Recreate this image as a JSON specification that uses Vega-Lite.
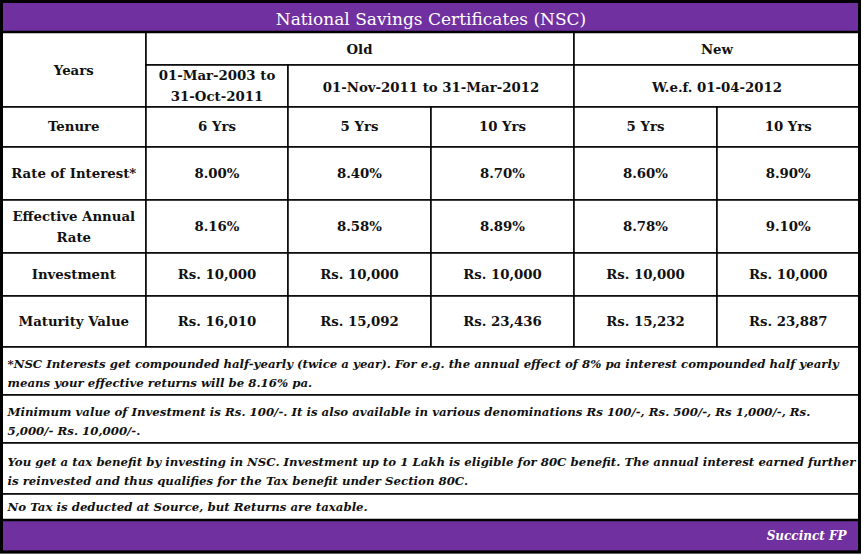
{
  "$schema": "https://vega.github.io/schema/vega-lite/v6.json",
  "width": 863,
  "height": 555,
  "autosize": {"type": "none"},
  "padding": 0,
  "background": "white",
  "config": {"view": {"stroke": null}},
  "datasets": {
    "banners": [
      {"c0": 0, "c1": 6, "r0": 0, "r1": 1},
      {"c0": 0, "c1": 6, "r0": 12, "r1": 13}
    ],
    "grid": [
      {"c0": 0, "c1": 1, "r0": 1, "r1": 3},
      {"c0": 1, "c1": 4, "r0": 1, "r1": 2},
      {"c0": 4, "c1": 6, "r0": 1, "r1": 2},
      {"c0": 1, "c1": 2, "r0": 2, "r1": 3},
      {"c0": 2, "c1": 4, "r0": 2, "r1": 3},
      {"c0": 4, "c1": 6, "r0": 2, "r1": 3},
      {"c0": 0, "c1": 1, "r0": 3, "r1": 4}, {"c0": 1, "c1": 2, "r0": 3, "r1": 4}, {"c0": 2, "c1": 3, "r0": 3, "r1": 4}, {"c0": 3, "c1": 4, "r0": 3, "r1": 4}, {"c0": 4, "c1": 5, "r0": 3, "r1": 4}, {"c0": 5, "c1": 6, "r0": 3, "r1": 4},
      {"c0": 0, "c1": 1, "r0": 4, "r1": 5}, {"c0": 1, "c1": 2, "r0": 4, "r1": 5}, {"c0": 2, "c1": 3, "r0": 4, "r1": 5}, {"c0": 3, "c1": 4, "r0": 4, "r1": 5}, {"c0": 4, "c1": 5, "r0": 4, "r1": 5}, {"c0": 5, "c1": 6, "r0": 4, "r1": 5},
      {"c0": 0, "c1": 1, "r0": 5, "r1": 6}, {"c0": 1, "c1": 2, "r0": 5, "r1": 6}, {"c0": 2, "c1": 3, "r0": 5, "r1": 6}, {"c0": 3, "c1": 4, "r0": 5, "r1": 6}, {"c0": 4, "c1": 5, "r0": 5, "r1": 6}, {"c0": 5, "c1": 6, "r0": 5, "r1": 6},
      {"c0": 0, "c1": 1, "r0": 6, "r1": 7}, {"c0": 1, "c1": 2, "r0": 6, "r1": 7}, {"c0": 2, "c1": 3, "r0": 6, "r1": 7}, {"c0": 3, "c1": 4, "r0": 6, "r1": 7}, {"c0": 4, "c1": 5, "r0": 6, "r1": 7}, {"c0": 5, "c1": 6, "r0": 6, "r1": 7},
      {"c0": 0, "c1": 1, "r0": 7, "r1": 8}, {"c0": 1, "c1": 2, "r0": 7, "r1": 8}, {"c0": 2, "c1": 3, "r0": 7, "r1": 8}, {"c0": 3, "c1": 4, "r0": 7, "r1": 8}, {"c0": 4, "c1": 5, "r0": 7, "r1": 8}, {"c0": 5, "c1": 6, "r0": 7, "r1": 8},
      {"c0": 0, "c1": 6, "r0": 8, "r1": 9},
      {"c0": 0, "c1": 6, "r0": 9, "r1": 10},
      {"c0": 0, "c1": 6, "r0": 10, "r1": 11},
      {"c0": 0, "c1": 6, "r0": 11, "r1": 12}
    ],
    "frame": [
      {"c0": 0, "c1": 6, "r0": 0, "r1": 13}
    ],
    "title": [
      {"col": 3, "row": 0.6, "t": "National Savings Certificates (NSC)"}
    ],
    "body": [
      {"col": 0.5, "row": 2.15, "t": "Years"},
      {"col": 2.5, "row": 1.55, "t": "Old"},
      {"col": 5, "row": 1.55, "t": "New"},
      {"col": 3, "row": 2.55, "t": "01-Nov-2011 to 31-Mar-2012"},
      {"col": 5, "row": 2.55, "t": "W.e.f. 01-04-2012"},
      {"col": 0.5, "row": 3.5, "t": "Tenure"},
      {"col": 1.5, "row": 3.5, "t": "6 Yrs"},
      {"col": 2.5, "row": 3.5, "t": "5 Yrs"},
      {"col": 3.5, "row": 3.5, "t": "10 Yrs"},
      {"col": 4.5, "row": 3.5, "t": "5 Yrs"},
      {"col": 5.5, "row": 3.5, "t": "10 Yrs"},
      {"col": 0.5, "row": 4.5, "t": "Rate of Interest*"},
      {"col": 1.5, "row": 4.5, "t": "8.00%"},
      {"col": 2.5, "row": 4.5, "t": "8.40%"},
      {"col": 3.5, "row": 4.5, "t": "8.70%"},
      {"col": 4.5, "row": 4.5, "t": "8.60%"},
      {"col": 5.5, "row": 4.5, "t": "8.90%"},
      {"col": 1.5, "row": 5.5, "t": "8.16%"},
      {"col": 2.5, "row": 5.5, "t": "8.58%"},
      {"col": 3.5, "row": 5.5, "t": "8.89%"},
      {"col": 4.5, "row": 5.5, "t": "8.78%"},
      {"col": 5.5, "row": 5.5, "t": "9.10%"},
      {"col": 0.5, "row": 6.5, "t": "Investment"},
      {"col": 1.5, "row": 6.5, "t": "Rs. 10,000"},
      {"col": 2.5, "row": 6.5, "t": "Rs. 10,000"},
      {"col": 3.5, "row": 6.5, "t": "Rs. 10,000"},
      {"col": 4.5, "row": 6.5, "t": "Rs. 10,000"},
      {"col": 5.5, "row": 6.5, "t": "Rs. 10,000"},
      {"col": 0.5, "row": 7.5, "t": "Maturity Value"},
      {"col": 1.5, "row": 7.5, "t": "Rs. 16,010"},
      {"col": 2.5, "row": 7.5, "t": "Rs. 15,092"},
      {"col": 3.5, "row": 7.5, "t": "Rs. 23,436"},
      {"col": 4.5, "row": 7.5, "t": "Rs. 15,232"},
      {"col": 5.5, "row": 7.5, "t": "Rs. 23,887"}
    ],
    "body2": [
      {"col": 1.5, "row": 2.5, "t": ["01-Mar-2003 to", "31-Oct-2011"]},
      {"col": 0.5, "row": 5.5, "t": ["Effective Annual", "Rate"]}
    ],
    "notes": [
      {"col": 0, "row": 8.5, "t": ["*NSC Interests get compounded half-yearly (twice a year). For e.g. the annual effect of 8% pa interest compounded half yearly", "means your effective returns will be 8.16% pa."]},
      {"col": 0, "row": 9.5, "t": ["Minimum value of Investment is Rs. 100/-. It is also available in various denominations Rs 100/-, Rs. 500/-, Rs 1,000/-, Rs.", "5,000/- Rs. 10,000/-."]},
      {"col": 0, "row": 10.5, "t": ["You get a tax benefit by investing in NSC. Investment up to 1 Lakh is eligible for 80C benefit. The annual interest earned further", "is reinvested and thus qualifies for the Tax benefit under Section 80C."]}
    ],
    "notes1": [
      {"col": 0, "row": 11.5, "t": "No Tax is deducted at Source, but Returns are taxable."}
    ],
    "footer": [
      {"col": 6, "row": 12.5, "t": "Succinct FP"}
    ]
  },
  "layer": [
    {
      "data": {"name": "grid"},
      "mark": {"type": "rect", "fill": "white", "stroke": "#000000", "strokeWidth": 1.5},
      "encoding": {
        "x": {"field": "c0", "type": "quantitative", "axis": null, "scale": {"type": "linear", "domain": [0, 1, 2, 3, 4, 5, 6], "range": [1.5, 146, 288, 431, 574, 717, 859.5], "nice": false, "zero": false}},
        "x2": {"field": "c1"},
        "y": {"field": "r0", "type": "quantitative", "axis": null, "scale": {"type": "linear", "domain": [0, 1, 2, 3, 4, 5, 6, 7, 8, 9, 10, 11, 12, 13], "range": [1.5, 32, 65, 107, 147, 200, 253, 296, 347, 395, 443, 494, 520, 552], "nice": false, "zero": false}},
        "y2": {"field": "r1"}
      }
    },
    {
      "data": {"name": "banners"},
      "mark": {"type": "rect", "fill": "#7030A0", "stroke": "#000000", "strokeWidth": 2.5},
      "encoding": {
        "x": {"field": "c0", "type": "quantitative", "axis": null},
        "x2": {"field": "c1"},
        "y": {"field": "r0", "type": "quantitative", "axis": null},
        "y2": {"field": "r1"}
      }
    },
    {
      "data": {"name": "frame"},
      "mark": {"type": "rect", "fill": null, "filled": false, "stroke": "#000000", "strokeWidth": 3},
      "encoding": {
        "x": {"field": "c0", "type": "quantitative", "axis": null},
        "x2": {"field": "c1"},
        "y": {"field": "r0", "type": "quantitative", "axis": null},
        "y2": {"field": "r1"}
      }
    },
    {
      "data": {"name": "title"},
      "mark": {"type": "text", "font": "DejaVu Serif", "fontSize": 17, "fontWeight": "normal", "color": "white", "align": "center", "baseline": "middle"},
      "encoding": {
        "x": {"field": "col", "type": "quantitative", "axis": null},
        "y": {"field": "row", "type": "quantitative", "axis": null},
        "text": {"field": "t"}
      }
    },
    {
      "data": {"name": "body"},
      "mark": {"type": "text", "font": "DejaVu Serif", "fontSize": 13.3, "fontWeight": "bold", "color": "#111111", "align": "center", "baseline": "middle"},
      "encoding": {
        "x": {"field": "col", "type": "quantitative", "axis": null},
        "y": {"field": "row", "type": "quantitative", "axis": null},
        "text": {"field": "t"}
      }
    },
    {
      "data": {"name": "body2"},
      "mark": {"type": "text", "font": "DejaVu Serif", "fontSize": 13.3, "fontWeight": "bold", "color": "#111111", "align": "center", "baseline": "middle", "lineHeight": 21, "dy": -10},
      "encoding": {
        "x": {"field": "col", "type": "quantitative", "axis": null},
        "y": {"field": "row", "type": "quantitative", "axis": null},
        "text": {"field": "t"}
      }
    },
    {
      "data": {"name": "notes"},
      "mark": {"type": "text", "font": "DejaVu Serif", "fontSize": 11.75, "fontWeight": "bold", "fontStyle": "italic", "color": "#111111", "align": "left", "baseline": "middle", "lineHeight": 19, "dx": 6, "dy": -7},
      "encoding": {
        "x": {"field": "col", "type": "quantitative", "axis": null},
        "y": {"field": "row", "type": "quantitative", "axis": null},
        "text": {"field": "t"}
      }
    },
    {
      "data": {"name": "notes1"},
      "mark": {"type": "text", "font": "DejaVu Serif", "fontSize": 11.75, "fontWeight": "bold", "fontStyle": "italic", "color": "#111111", "align": "left", "baseline": "middle", "dx": 6},
      "encoding": {
        "x": {"field": "col", "type": "quantitative", "axis": null},
        "y": {"field": "row", "type": "quantitative", "axis": null},
        "text": {"field": "t"}
      }
    },
    {
      "data": {"name": "footer"},
      "mark": {"type": "text", "font": "DejaVu Serif", "fontSize": 12, "fontWeight": "bold", "fontStyle": "italic", "color": "white", "align": "right", "baseline": "middle", "dx": -13},
      "encoding": {
        "x": {"field": "col", "type": "quantitative", "axis": null},
        "y": {"field": "row", "type": "quantitative", "axis": null},
        "text": {"field": "t"}
      }
    }
  ]
}
